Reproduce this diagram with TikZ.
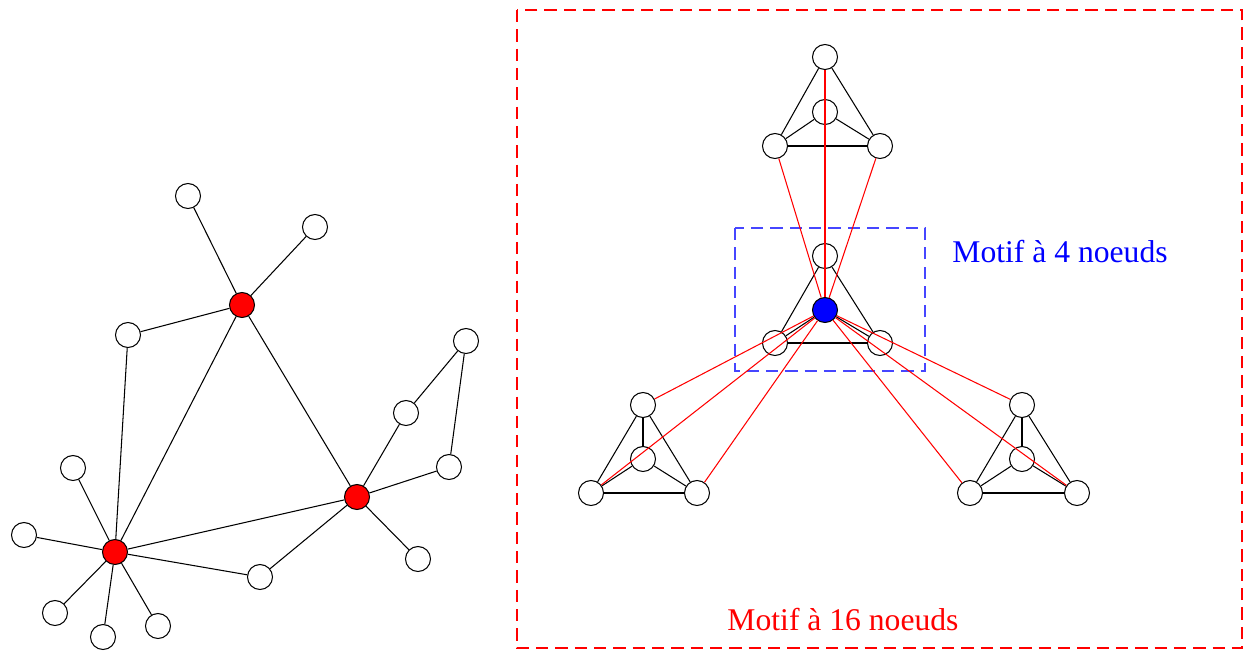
\documentclass[tikz,border=0pt]{standalone}
\usepackage{fontspec}
\setmainfont{Liberation Serif}
\definecolor{dashblue}{RGB}{70,70,255}
\begin{document}
\begin{tikzpicture}[x=0.02cm,y=-0.02cm,
  wn/.style={circle,draw,fill=white,minimum size=0.5cm,inner sep=0pt,line width=0.6pt},
  rn/.style={wn,fill=red},
  bn/.style={wn,fill=blue},
  ed/.style={line width=0.6pt},
  re/.style={red,line width=0.6pt},
  lab/.style={font=\fontsize{18}{22}\selectfont}]
\useasboundingbox (0,0) rectangle (1252,650);
% left graph
\node[rn] (r1) at (242,305) {};
\node[rn] (r2) at (357,497) {};
\node[rn] (r3) at (115,552) {};
\node[wn] (a) at (188,196) {};
\node[wn] (b) at (315,227) {};
\node[wn] (c) at (128,335) {};
\node[wn] (d) at (466,341) {};
\node[wn] (e) at (406,413) {};
\node[wn] (f) at (449,467) {};
\node[wn] (g) at (73,468) {};
\node[wn] (h) at (24,535) {};
\node[wn] (i) at (260,577) {};
\node[wn] (j) at (418,559) {};
\node[wn] (k) at (55,613) {};
\node[wn] (l) at (103,637) {};
\node[wn] (m) at (158,626) {};
\foreach \u/\v in {a/r1,b/r1,c/r1,r1/r3,r1/r2,c/r3,r2/r3,r2/e,r2/f,r2/j,r2/i,i/r3,e/d,d/f,g/r3,h/r3,k/r3,l/r3,m/r3}
  \draw[ed] (\u) -- (\v);
% right part
\draw[red,dash pattern=on 7pt off 4pt,line width=0.6pt] (517,10) rectangle (1242,648);
\draw[draw=dashblue,dash pattern=on 7pt off 4pt,line width=0.6pt] (735,228) rectangle (925,371);
% top motif
\node[wn] (tt) at (825,57) {};
\node[wn] (tc) at (825,112) {};
\node[wn] (tl) at (775,146) {};
\node[wn] (tr) at (880,146) {};
% center motif
\node[wn] (ct) at (825,256) {};
\node[bn] (cc) at (825,310) {};
\node[wn] (cl) at (775,343) {};
\node[wn] (cr) at (880,343) {};
% bottom-left motif
\node[wn] (lt) at (643,405) {};
\node[wn] (lc) at (643,459) {};
\node[wn] (ll) at (591,493) {};
\node[wn] (lr) at (697,493) {};
% bottom-right motif
\node[wn] (rt) at (1022,405) {};
\node[wn] (rc) at (1022,459) {};
\node[wn] (rl) at (970,493) {};
\node[wn] (rr) at (1077,493) {};
\foreach \p in {t,c} {
  \draw[ed] (\p t) -- (\p l); \draw[ed] (\p t) -- (\p r); \draw[ed] (\p l) -- (\p r);
  \draw[ed] (\p c) -- (\p l); \draw[ed] (\p c) -- (\p r);
}
\foreach \p in {l,r} {
  \draw[ed] (\p t) -- (\p l); \draw[ed] (\p t) -- (\p r); \draw[ed] (\p l) -- (\p r);
  \draw[ed] (\p c) -- (\p l); \draw[ed] (\p c) -- (\p r); \draw[ed] (\p c) -- (\p t);
}
\foreach \v in {tt,tl,tr,lt,ll,lr,rt,rl,rr}
  \draw[re] (cc) -- (\v);
\node[lab,blue] (m4) at (1060,252) {Motif à 4 noeuds};
\node[lab,red] (m16) at (843,620) {Motif à 16 noeuds};
\end{tikzpicture}
\end{document}
